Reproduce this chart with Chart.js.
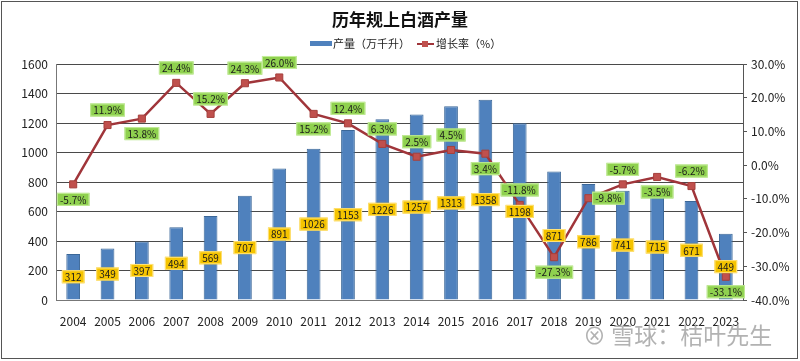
<!DOCTYPE html>
<html>
<head>
<meta charset="utf-8">
<script src="https://cdn.jsdelivr.net/npm/chart.js@4.4.0/dist/chart.umd.min.js"></script>
<style>
  html, body { margin: 0; padding: 0; background: #fff; }
  #wrap { width: 800px; height: 361px; position: relative; }
</style>
</head>
<body>
<div id="wrap"><canvas id="chart"></canvas></div>
<script>
// data
const years = ['2004', '2005', '2006', '2007', '2008', '2009', '2010', '2011', '2012', '2013',
  '2014', '2015', '2016', '2017', '2018', '2019', '2020', '2021', '2022', '2023'];
const output = [312, 349, 397, 494, 569, 707, 891, 1026, 1153, 1226,
  1257, 1313, 1358, 1198, 871, 786, 741, 715, 671, 449];
const growth = [-5.7, 11.9, 13.8, 24.4, 15.2, 24.3, 26.0, 15.2, 12.4, 6.3,
  2.5, 4.5, 3.4, -11.8, -27.3, -9.8, -5.7, -3.5, -6.2, -33.1];
// where each growth label sits relative to its point
const growthSide = ['below', 'above', 'below', 'above', 'above', 'above', 'above', 'below', 'above', 'above',
  'above', 'above', 'below', 'above', 'below', 'right', 'above', 'below', 'above', 'below'];

const FONT = '"Noto Sans CJK SC", "Noto Sans", sans-serif';

function drawTag(ctx, text, x, y, fill, edge) {
  ctx.font = '10px ' + FONT;
  const w = ctx.measureText(text).width + 6;
  const h = 13;
  ctx.fillStyle = fill;
  ctx.fillRect(x - w / 2, y - h / 2, w, h);
  ctx.strokeStyle = edge;
  ctx.lineWidth = 1;
  ctx.strokeRect(x - w / 2 + 0.5, y - h / 2 + 0.5, w - 1, h - 1);
  ctx.fillStyle = '#1a1a1a';
  ctx.textAlign = 'center';
  ctx.textBaseline = 'middle';
  ctx.fillText(text, x, y + 0.5);
}

const decor = {
  id: 'decor',
  beforeDraw(chart) {
    const ctx = chart.ctx;
    ctx.save();
    ctx.fillStyle = '#fff';
    ctx.fillRect(0, 0, chart.width, chart.height);
    ctx.restore();
  },
  afterDatasetsDraw(chart) {
    const ctx = chart.ctx;
    ctx.save();
    chart.getDatasetMeta(0).data.forEach((bar, i) => {
      const y = (bar.y + bar.base) / 2;
      drawTag(ctx, String(output[i]), bar.x, y, '#f5c400', '#ffe27a');
    });
    chart.getDatasetMeta(1).data.forEach((pt, i) => {
      let x = pt.x, y = pt.y;
      if (growthSide[i] === 'above') y -= 15;
      else if (growthSide[i] === 'below') y += 15;
      else x += 20;
      drawTag(ctx, growth[i].toFixed(1) + '%', x, y, '#8fd14f', '#c4ec9a');
    });
    ctx.restore();
  },
  afterDraw(chart) {
    const ctx = chart.ctx;
    ctx.save();
    // title
    ctx.fillStyle = '#111';
    ctx.font = 'bold 17px ' + FONT;
    ctx.textAlign = 'center';
    ctx.textBaseline = 'middle';
    ctx.fillText('历年规上白酒产量', 400, 20);
    // legend
    ctx.font = '11px ' + FONT;
    ctx.textAlign = 'left';
    ctx.fillStyle = '#4f81bd';
    ctx.fillRect(310, 41, 22, 5);
    ctx.fillStyle = '#222';
    ctx.fillText('产量（万千升）', 333, 44);
    ctx.strokeStyle = '#a0353a';
    ctx.lineWidth = 2;
    ctx.beginPath();
    ctx.moveTo(417, 44);
    ctx.lineTo(434, 44);
    ctx.stroke();
    ctx.fillStyle = '#c0504d';
    ctx.fillRect(422, 41, 6, 6);
    ctx.fillStyle = '#222';
    ctx.fillText('增长率（%）', 436, 44);
    // watermark
    ctx.font = '23px ' + FONT;
    ctx.fillStyle = 'rgba(165,165,165,0.85)';
    ctx.fillText('⊗ 雪球：桔叶先生', 583, 335);
    // frame
    ctx.strokeStyle = '#555';
    ctx.lineWidth = 1;
    ctx.strokeRect(1.5, 1.5, 796, 357);
    ctx.restore();
  }
};

new Chart(document.getElementById('chart'), {
  data: {
    labels: years,
    datasets: [
      {
        type: 'bar',
        label: '产量（万千升）',
        data: output,
        yAxisID: 'y',
        backgroundColor: '#4f81bd',
        borderColor: '#3b6798',
        borderWidth: 1,
        barPercentage: 0.4,
        categoryPercentage: 1,
        order: 2,
      },
      {
        type: 'line',
        label: '增长率（%）',
        data: growth,
        yAxisID: 'y1',
        borderColor: '#a0353a',
        borderWidth: 2.5,
        tension: 0,
        pointStyle: 'rect',
        pointRadius: 5,
        pointBackgroundColor: '#c0504d',
        pointBorderColor: '#a5403d',
        pointBorderWidth: 1,
        order: 1,
      },
    ],
  },
  options: {
    responsive: true,
    maintainAspectRatio: false,
    animation: false,
    layout: { padding: { top: 64, left: 0, right: 0, bottom: 0 } },
    plugins: {
      legend: { display: false },
      title: { display: false },
      tooltip: { enabled: false },
    },
    scales: {
      x: {
        grid: { display: false },
        border: { color: '#777' },
        ticks: { color: '#222', font: { size: 12, family: FONT }, padding: 6 },
        afterFit(axis) { axis.height = 61; },
      },
      y: {
        position: 'left',
        min: 0,
        max: 1600,
        ticks: {
          stepSize: 200,
          color: '#222',
          font: { size: 12, family: FONT },
          padding: 8,
          callback: (v) => String(v),
        },
        grid: { color: '#4a4a4a', drawTicks: false },
        border: { color: '#777' },
        afterFit(axis) { axis.width = 56; },
      },
      y1: {
        position: 'right',
        min: -40,
        max: 30,
        ticks: {
          stepSize: 10,
          color: '#222',
          font: { size: 12, family: FONT },
          padding: 4,
          callback: (v) => v.toFixed(1) + '%',
        },
        grid: { drawOnChartArea: false, tickLength: 4, color: '#555' },
        border: { color: '#555' },
        afterFit(axis) { axis.width = 57; },
      },
    },
  },
  plugins: [decor],
});
</script>
</body>
</html>
